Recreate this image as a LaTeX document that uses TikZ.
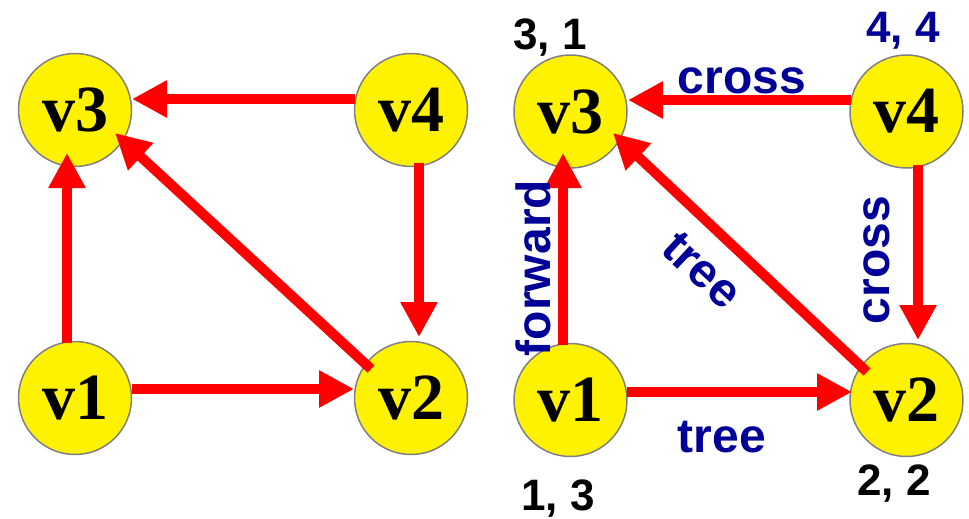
\documentclass[tikz,border=0pt]{standalone}
\usepackage{fontspec}
\setmainfont{Liberation Serif}
\newfontfamily\labfont{Liberation Sans}
\usetikzlibrary{arrows.meta}
\definecolor{navy}{RGB}{0,0,153}
\definecolor{edgered}{RGB}{255,0,0}
\definecolor{ringgray}{RGB}{128,128,128}
\begin{document}
\begin{tikzpicture}[x=1pt,y=-1pt,
 vert/.style={circle, fill=yellow, draw=ringgray, line width=1.5pt, minimum size=113pt, inner sep=0pt, font=\fontsize{66}{66}\selectfont\bfseries},
 arr/.style={draw=edgered, line width=10pt, -{Triangle[length=35pt,width=35pt]}},
 elab/.style={font=\labfont\fontsize{48}{48}\selectfont\bfseries, text=navy, inner sep=0pt},
 num/.style={font=\labfont\fontsize{44}{44}\selectfont\bfseries, inner sep=0pt, anchor=base}]
\useasboundingbox (0,0) rectangle (969,519);
% left graph
\node[vert] (a3) at (75,110) {v3};
\node[vert] (a4) at (411,110) {v4};
\node[vert] (a1) at (75,398) {v1};
\node[vert] (a2) at (411,398) {v2};
\draw[arr] ([shift={(-56,-11)}]a4.center) -- ([shift={(57,-11)}]a3.center);
\draw[arr] ([shift={(-8,-55)}]a1.center) -- ([shift={(-8,43)}]a3.center);
\draw[arr] ([shift={(57,-9)}]a1.center) -- ([shift={(-57,-9)}]a2.center);
\draw[arr] ([shift={(8,53)}]a4.center) -- ([shift={(8,-61)}]a2.center);
\draw[arr] ([shift={(-40,-29)}]a2.center) -- ([shift={(40,23)}]a3.center);
% right graph
\node[vert] (b3) at (570.5,111.5) {v3};
\node[vert] (b4) at (906.5,111.5) {v4};
\node[vert] (b1) at (570.5,400) {v1};
\node[vert] (b2) at (906.5,400) {v2};
\draw[arr] ([shift={(-56,-11.5)}]b4.center) -- ([shift={(57.5,-11.5)}]b3.center);
\draw[arr] ([shift={(-7.5,-55)}]b1.center) -- ([shift={(-7.5,41.5)}]b3.center);
\draw[arr] ([shift={(56.5,-8)}]b1.center) -- ([shift={(-54.5,-8)}]b2.center);
\draw[arr] ([shift={(11.5,53.5)}]b4.center) -- ([shift={(11.5,-60)}]b2.center);
\draw[arr] ([shift={(-39.5,-28)}]b2.center) -- ([shift={(42.5,21.5)}]b3.center);
% edge labels
\node[elab, anchor=base] (lc1) at (742,93) {cross};
\node[elab, rotate=90] (lf) at (533,268) {forward};
\node[elab, rotate=-43] (lt1) at (702,270) {tree};
\node[elab, rotate=90] (lc2) at (877,260) {cross};
\node[elab, anchor=base] (lt2) at (722,452) {tree};
% numbers
\node[num] (n3) at (550,50) {3, 1};
\node[num, text=navy] (n4) at (903,43) {4, 4};
\node[num] (n1) at (558,510) {1, 3};
\node[num] (n2) at (894,495) {2, 2};
\end{tikzpicture}
\end{document}
